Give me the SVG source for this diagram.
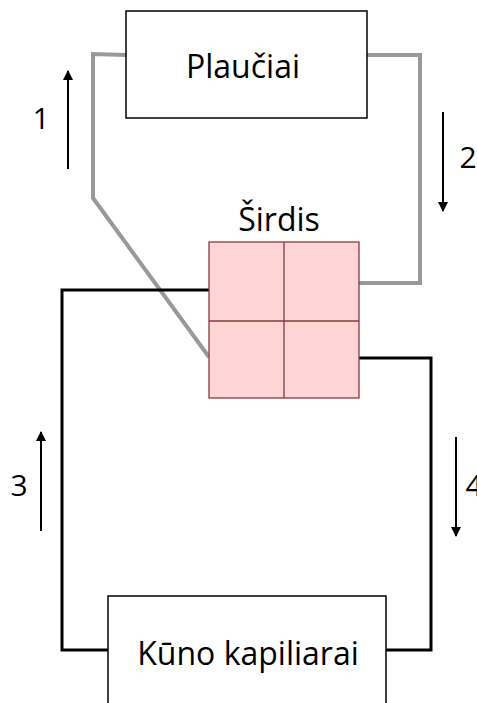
<svg xmlns="http://www.w3.org/2000/svg" width="477" height="703" viewBox="0 0 477 703">
<style>
.box{fill:#fff;stroke:#000;stroke-width:1.5}
.lbl{font-family:"Open Sans","Noto Sans",sans-serif;font-size:32px;fill:#000;text-anchor:middle}
.num{font-family:"Open Sans","Noto Sans",sans-serif;font-size:30px;fill:#000;text-anchor:middle}
.gray{fill:none;stroke:#999;stroke-width:4}
.blk{fill:none;stroke:#000;stroke-width:3}
.arr{fill:none;stroke:#000;stroke-width:2;marker-end:url(#ah)}
.heart{fill:#ffd5d5;stroke:#8b3a3a;stroke-width:1.3}
</style>
<defs>
<marker id="ah" viewBox="0 0 10 10" refX="9" refY="5" markerWidth="5" markerHeight="5" orient="auto" markerUnits="strokeWidth">
<path d="M0,0 L10,5 L0,10 z" fill="#000"/>
</marker>
</defs>
<g id="connectors">
<polyline class="gray" points="126,55 93,54 93,198 209,357"/>
<polyline class="gray" points="367,55 420,55 420,283 359,283"/>
<polyline class="blk" points="209,290 62,290 62,650 108,650"/>
<polyline class="blk" points="386,650 431,650 431,358 359,358"/>
<line class="arr" x1="68" y1="169" x2="68" y2="71"/>
<line class="arr" x1="443" y1="112" x2="443" y2="211"/>
<line class="arr" x1="41" y1="531" x2="41" y2="432"/>
<line class="arr" x1="456" y1="437" x2="456" y2="536"/>
<text class="num" x="41" y="129">1</text>
<text class="num" x="468" y="168">2</text>
<text class="num" x="19" y="496">3</text>
<text class="num" x="474" y="496">4</text>
</g>
<g id="plauciai">
<rect class="box" x="126" y="11" width="241" height="107"/>
<text class="lbl" x="243" y="78">Plaučiai</text>
</g>
<g id="sirdis">
<text class="lbl" x="279" y="231">Širdis</text>
<rect class="heart" x="209" y="242" width="150" height="156"/>
<line class="heart" x1="284" y1="242" x2="284" y2="398"/>
<line class="heart" x1="209" y1="321" x2="359" y2="321"/>
</g>
<g id="kuno">
<rect class="box" x="108" y="596" width="278" height="120"/>
<text class="lbl" x="248" y="665">Kūno kapiliarai</text>
</g>
</svg>
